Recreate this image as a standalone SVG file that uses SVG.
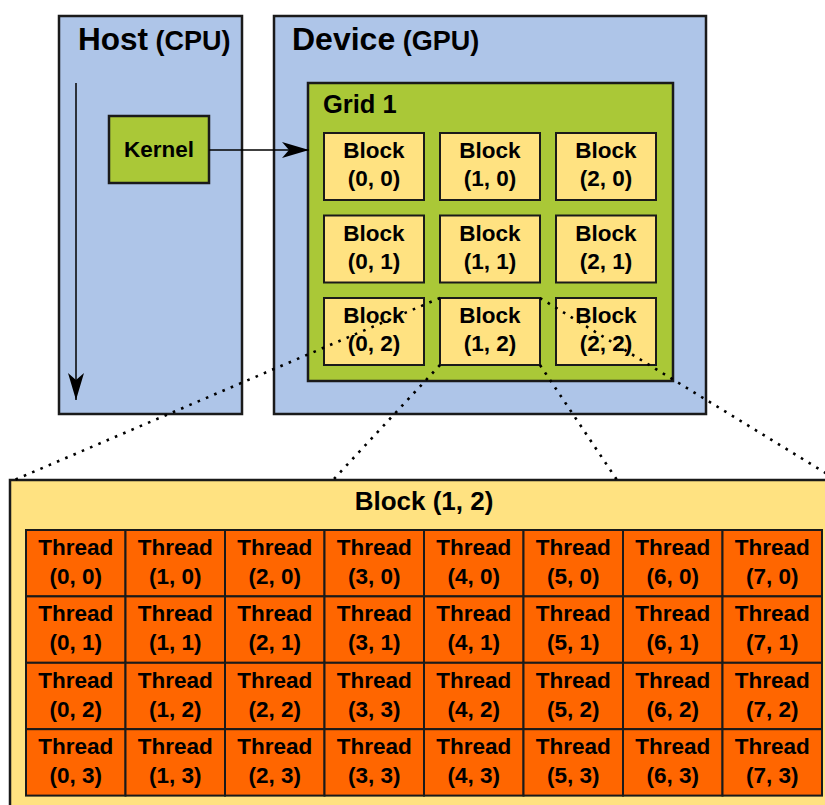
<svg xmlns="http://www.w3.org/2000/svg" width="825" height="805" viewBox="0 0 825 805">
<style>
text{font-family:"Liberation Sans",Arial,Helvetica,sans-serif;font-weight:bold;fill:#000}
.panel{fill:#aec5e8;stroke:#1a1a1a;stroke-width:2.5}
.grid{fill:#aac837;stroke:#1a1a1a;stroke-width:2.5}
.blk{fill:#ffe281;stroke:#1a1a1a;stroke-width:2}
.big{fill:#ffe281;stroke:#1a1a1a;stroke-width:2.5}
.thr{fill:#ff6600;stroke:#1a1a1a;stroke-width:2}
.lbl{font-size:22.5px;text-anchor:middle}
.conn{stroke:#000;stroke-width:1.5;fill:none}
.dot{stroke:#000;stroke-width:2.6;fill:none;stroke-dasharray:2.6 6.4}
</style>
<defs>
<marker id="arr" viewBox="0 0 27 16" refX="27" refY="8" markerWidth="27" markerHeight="16" markerUnits="userSpaceOnUse" orient="auto">
<path d="M0,0 L27,8 L0,16 L7,8 Z" fill="#000"/>
</marker>
</defs>

<g id="host">
<rect class="panel" x="59" y="16" width="183" height="398"/>
<text x="78" y="50"><tspan font-size="31.5">Host</tspan><tspan font-size="27"> (CPU)</tspan></text>
</g>

<g id="device">
<rect class="panel" x="274" y="16" width="432" height="398"/>
<text x="292" y="50"><tspan font-size="32">Device</tspan><tspan font-size="27"> (GPU)</tspan></text>
</g>

<g id="kernel">
<rect x="109" y="116" width="100" height="67" fill="#aac837" stroke="#1a1a1a" stroke-width="2.5"/>
<text class="lbl" x="159" y="157">Kernel</text>
</g>

<g id="grid1">
<rect class="grid" x="308" y="83" width="365" height="298"/>
<text x="323" y="113" font-size="25.5">Grid 1</text>
</g>

<g id="block-0-0"><rect class="blk" x="324" y="133" width="100" height="67"/><text class="lbl" x="374" y="158">Block</text><text class="lbl" x="374" y="186">(0, 0)</text></g>
<g id="block-1-0"><rect class="blk" x="440" y="133" width="100" height="67"/><text class="lbl" x="490" y="158">Block</text><text class="lbl" x="490" y="186">(1, 0)</text></g>
<g id="block-2-0"><rect class="blk" x="556" y="133" width="100" height="67"/><text class="lbl" x="606" y="158">Block</text><text class="lbl" x="606" y="186">(2, 0)</text></g>
<g id="block-0-1"><rect class="blk" x="324" y="215.5" width="100" height="67"/><text class="lbl" x="374" y="240.5">Block</text><text class="lbl" x="374" y="268.5">(0, 1)</text></g>
<g id="block-1-1"><rect class="blk" x="440" y="215.5" width="100" height="67"/><text class="lbl" x="490" y="240.5">Block</text><text class="lbl" x="490" y="268.5">(1, 1)</text></g>
<g id="block-2-1"><rect class="blk" x="556" y="215.5" width="100" height="67"/><text class="lbl" x="606" y="240.5">Block</text><text class="lbl" x="606" y="268.5">(2, 1)</text></g>
<g id="block-0-2"><rect class="blk" x="324" y="298" width="100" height="67"/><text class="lbl" x="374" y="323">Block</text><text class="lbl" x="374" y="351">(0, 2)</text></g>
<g id="block-1-2"><rect class="blk" x="440" y="298" width="100" height="67"/><text class="lbl" x="490" y="323">Block</text><text class="lbl" x="490" y="351">(1, 2)</text></g>
<g id="block-2-2"><rect class="blk" x="556" y="298" width="100" height="67"/><text class="lbl" x="606" y="323">Block</text><text class="lbl" x="606" y="351">(2, 2)</text></g>

<g id="block-1-2-detail">
<rect class="big" x="10" y="480" width="830" height="340"/>
<text x="424" y="510" font-size="26" text-anchor="middle">Block (1, 2)</text>
</g>

<g id="threads">
<g id="t-0-0"><rect class="thr" x="26" y="530" width="99.5" height="66.4"/><text class="lbl" x="75.75" y="555">Thread</text><text class="lbl" x="75.75" y="584">(0, 0)</text></g>
<g id="t-1-0"><rect class="thr" x="125.5" y="530" width="99.5" height="66.4"/><text class="lbl" x="175.25" y="555">Thread</text><text class="lbl" x="175.25" y="584">(1, 0)</text></g>
<g id="t-2-0"><rect class="thr" x="225" y="530" width="99.5" height="66.4"/><text class="lbl" x="274.75" y="555">Thread</text><text class="lbl" x="274.75" y="584">(2, 0)</text></g>
<g id="t-3-0"><rect class="thr" x="324.5" y="530" width="99.5" height="66.4"/><text class="lbl" x="374.25" y="555">Thread</text><text class="lbl" x="374.25" y="584">(3, 0)</text></g>
<g id="t-4-0"><rect class="thr" x="424" y="530" width="99.5" height="66.4"/><text class="lbl" x="473.75" y="555">Thread</text><text class="lbl" x="473.75" y="584">(4, 0)</text></g>
<g id="t-5-0"><rect class="thr" x="523.5" y="530" width="99.5" height="66.4"/><text class="lbl" x="573.25" y="555">Thread</text><text class="lbl" x="573.25" y="584">(5, 0)</text></g>
<g id="t-6-0"><rect class="thr" x="623" y="530" width="99.5" height="66.4"/><text class="lbl" x="672.75" y="555">Thread</text><text class="lbl" x="672.75" y="584">(6, 0)</text></g>
<g id="t-7-0"><rect class="thr" x="722.5" y="530" width="99.5" height="66.4"/><text class="lbl" x="772.25" y="555">Thread</text><text class="lbl" x="772.25" y="584">(7, 0)</text></g>

<g id="t-0-1"><rect class="thr" x="26" y="596.4" width="99.5" height="66.4"/><text class="lbl" x="75.75" y="621.4">Thread</text><text class="lbl" x="75.75" y="650.4">(0, 1)</text></g>
<g id="t-1-1"><rect class="thr" x="125.5" y="596.4" width="99.5" height="66.4"/><text class="lbl" x="175.25" y="621.4">Thread</text><text class="lbl" x="175.25" y="650.4">(1, 1)</text></g>
<g id="t-2-1"><rect class="thr" x="225" y="596.4" width="99.5" height="66.4"/><text class="lbl" x="274.75" y="621.4">Thread</text><text class="lbl" x="274.75" y="650.4">(2, 1)</text></g>
<g id="t-3-1"><rect class="thr" x="324.5" y="596.4" width="99.5" height="66.4"/><text class="lbl" x="374.25" y="621.4">Thread</text><text class="lbl" x="374.25" y="650.4">(3, 1)</text></g>
<g id="t-4-1"><rect class="thr" x="424" y="596.4" width="99.5" height="66.4"/><text class="lbl" x="473.75" y="621.4">Thread</text><text class="lbl" x="473.75" y="650.4">(4, 1)</text></g>
<g id="t-5-1"><rect class="thr" x="523.5" y="596.4" width="99.5" height="66.4"/><text class="lbl" x="573.25" y="621.4">Thread</text><text class="lbl" x="573.25" y="650.4">(5, 1)</text></g>
<g id="t-6-1"><rect class="thr" x="623" y="596.4" width="99.5" height="66.4"/><text class="lbl" x="672.75" y="621.4">Thread</text><text class="lbl" x="672.75" y="650.4">(6, 1)</text></g>
<g id="t-7-1"><rect class="thr" x="722.5" y="596.4" width="99.5" height="66.4"/><text class="lbl" x="772.25" y="621.4">Thread</text><text class="lbl" x="772.25" y="650.4">(7, 1)</text></g>

<g id="t-0-2"><rect class="thr" x="26" y="662.8" width="99.5" height="66.4"/><text class="lbl" x="75.75" y="687.8">Thread</text><text class="lbl" x="75.75" y="716.8">(0, 2)</text></g>
<g id="t-1-2"><rect class="thr" x="125.5" y="662.8" width="99.5" height="66.4"/><text class="lbl" x="175.25" y="687.8">Thread</text><text class="lbl" x="175.25" y="716.8">(1, 2)</text></g>
<g id="t-2-2"><rect class="thr" x="225" y="662.8" width="99.5" height="66.4"/><text class="lbl" x="274.75" y="687.8">Thread</text><text class="lbl" x="274.75" y="716.8">(2, 2)</text></g>
<g id="t-3-2"><rect class="thr" x="324.5" y="662.8" width="99.5" height="66.4"/><text class="lbl" x="374.25" y="687.8">Thread</text><text class="lbl" x="374.25" y="716.8">(3, 3)</text></g>
<g id="t-4-2"><rect class="thr" x="424" y="662.8" width="99.5" height="66.4"/><text class="lbl" x="473.75" y="687.8">Thread</text><text class="lbl" x="473.75" y="716.8">(4, 2)</text></g>
<g id="t-5-2"><rect class="thr" x="523.5" y="662.8" width="99.5" height="66.4"/><text class="lbl" x="573.25" y="687.8">Thread</text><text class="lbl" x="573.25" y="716.8">(5, 2)</text></g>
<g id="t-6-2"><rect class="thr" x="623" y="662.8" width="99.5" height="66.4"/><text class="lbl" x="672.75" y="687.8">Thread</text><text class="lbl" x="672.75" y="716.8">(6, 2)</text></g>
<g id="t-7-2"><rect class="thr" x="722.5" y="662.8" width="99.5" height="66.4"/><text class="lbl" x="772.25" y="687.8">Thread</text><text class="lbl" x="772.25" y="716.8">(7, 2)</text></g>

<g id="t-0-3"><rect class="thr" x="26" y="729.2" width="99.5" height="66.4"/><text class="lbl" x="75.75" y="754.2">Thread</text><text class="lbl" x="75.75" y="783.2">(0, 3)</text></g>
<g id="t-1-3"><rect class="thr" x="125.5" y="729.2" width="99.5" height="66.4"/><text class="lbl" x="175.25" y="754.2">Thread</text><text class="lbl" x="175.25" y="783.2">(1, 3)</text></g>
<g id="t-2-3"><rect class="thr" x="225" y="729.2" width="99.5" height="66.4"/><text class="lbl" x="274.75" y="754.2">Thread</text><text class="lbl" x="274.75" y="783.2">(2, 3)</text></g>
<g id="t-3-3"><rect class="thr" x="324.5" y="729.2" width="99.5" height="66.4"/><text class="lbl" x="374.25" y="754.2">Thread</text><text class="lbl" x="374.25" y="783.2">(3, 3)</text></g>
<g id="t-4-3"><rect class="thr" x="424" y="729.2" width="99.5" height="66.4"/><text class="lbl" x="473.75" y="754.2">Thread</text><text class="lbl" x="473.75" y="783.2">(4, 3)</text></g>
<g id="t-5-3"><rect class="thr" x="523.5" y="729.2" width="99.5" height="66.4"/><text class="lbl" x="573.25" y="754.2">Thread</text><text class="lbl" x="573.25" y="783.2">(5, 3)</text></g>
<g id="t-6-3"><rect class="thr" x="623" y="729.2" width="99.5" height="66.4"/><text class="lbl" x="672.75" y="754.2">Thread</text><text class="lbl" x="672.75" y="783.2">(6, 3)</text></g>
<g id="t-7-3"><rect class="thr" x="722.5" y="729.2" width="99.5" height="66.4"/><text class="lbl" x="772.25" y="754.2">Thread</text><text class="lbl" x="772.25" y="783.2">(7, 3)</text></g>
</g>

<g id="connectors">
<line class="conn" x1="76" y1="83" x2="76" y2="400" marker-end="url(#arr)"/>
<line class="conn" x1="209" y1="150" x2="309" y2="150" marker-end="url(#arr)"/>
<line class="dot" x1="440" y1="298" x2="12" y2="481"/>
<line class="dot" x1="440" y1="365" x2="333" y2="480"/>
<line class="dot" x1="540" y1="298" x2="837" y2="480"/>
<line class="dot" x1="540" y1="365" x2="617" y2="480"/>
</g>
</svg>
